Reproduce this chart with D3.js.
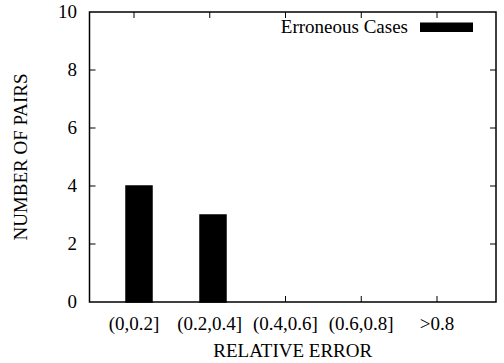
<!DOCTYPE html>
<html>
<head>
<meta charset="utf-8">
<script src="https://cdn.jsdelivr.net/npm/d3@7"></script>
<style>
  body { margin: 0; background: #fff; }
</style>
</head>
<body>
<script>
// data
var categories = ["(0,0.2]", "(0.2,0.4]", "(0.4,0.6]", "(0.6,0.8]", ">0.8"];
var counts = [4, 3, 0, 0, 0];
var yTicks = [0, 2, 4, 6, 8, 10];
var seriesName = "Erroneous Cases";

var width = 504, height = 363;
var margin = {top: 12, right: 8, bottom: 61, left: 89.5};
var x0 = margin.left, x1 = width - margin.right;
var y0 = height - margin.bottom, y1 = margin.top;

var svg = d3.select("body").append("svg")
    .attr("width", width)
    .attr("height", height)
    .attr("font-family", "'Liberation Serif', 'Times New Roman', 'DejaVu Serif', serif")
    .attr("font-size", 19);

var y = d3.scaleLinear().domain([0, 10]).range([y0, y1]);
// tick positions and bar centres (gnuplot puts them slightly apart)
var xTick = d3.scalePoint().domain(categories).range([134, 437]);
var xBar = d3.scalePoint().domain(categories).range([139, 435]);
var barW = 26;

// bars
svg.selectAll(".bar")
    .data(categories)
    .enter().append("rect")
    .attr("class", "bar")
    .attr("x", function(d) { return xBar(d) - barW / 2; })
    .attr("width", barW)
    .attr("y", function(d, i) { return y(counts[i]); })
    .attr("height", function(d, i) { return y0 - y(counts[i]); })
    .attr("fill", "#000")
    .attr("stroke", "#000")
    .attr("stroke-width", 1.5);

// ticks, inward on all four sides
var tl = 6;
var g = svg.append("g").attr("stroke", "#000").attr("stroke-width", 1);
yTicks.forEach(function(t) {
  if (t === 0 || t === 10) return;
  g.append("line").attr("x1", x0).attr("x2", x0 + tl).attr("y1", y(t)).attr("y2", y(t));
  g.append("line").attr("x1", x1).attr("x2", x1 - tl).attr("y1", y(t)).attr("y2", y(t));
});
categories.forEach(function(c) {
  g.append("line").attr("x1", xTick(c)).attr("x2", xTick(c)).attr("y1", y0).attr("y2", y0 - tl);
  g.append("line").attr("x1", xTick(c)).attr("x2", xTick(c)).attr("y1", y1).attr("y2", y1 + tl);
});

// frame
svg.append("rect")
    .attr("x", x0).attr("y", y1)
    .attr("width", x1 - x0).attr("height", y0 - y1)
    .attr("fill", "none")
    .attr("stroke", "#000")
    .attr("stroke-width", 1.5);

// tick labels
svg.selectAll(".ylab")
    .data(yTicks)
    .enter().append("text")
    .attr("x", 77)
    .attr("y", function(d) { return y(d); })
    .attr("dy", "0.33em")
    .attr("text-anchor", "end")
    .text(function(d) { return d; });

svg.selectAll(".xlab")
    .data(categories)
    .enter().append("text")
    .attr("x", function(d) { return xTick(d); })
    .attr("y", 330)
    .attr("text-anchor", "middle")
    .text(function(d) { return d; });

// axis titles
svg.append("text")
    .attr("x", (x0 + x1) / 2)
    .attr("y", 357)
    .attr("text-anchor", "middle")
    .text("RELATIVE ERROR");

svg.append("text")
    .attr("transform", "translate(27," + (y0 + y1) / 2 + ") rotate(-90)")
    .attr("text-anchor", "middle")
    .text("NUMBER OF PAIRS");

// legend
svg.append("text")
    .attr("x", 408)
    .attr("y", 33)
    .attr("text-anchor", "end")
    .text(seriesName);
svg.append("rect")
    .attr("x", 420).attr("y", 22.5)
    .attr("width", 53).attr("height", 9.5)
    .attr("fill", "#000");
</script>
</body>
</html>
